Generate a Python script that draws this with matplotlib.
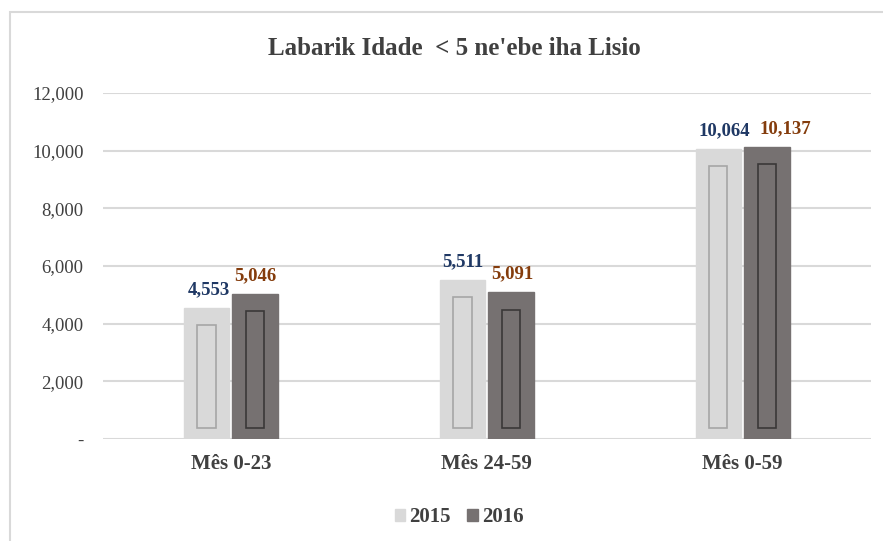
import numpy as np
import matplotlib
matplotlib.use("Agg")
import matplotlib.pyplot as plt
from matplotlib.patches import Rectangle

# data
categories = ["Mês 0-23", "Mês 24-59", "Mês 0-59"]
years = ["2015", "2016"]
values_2015 = [4553, 5511, 10064]
values_2016 = [5046, 5091, 10137]
yticks = [0, 2000, 4000, 6000, 8000, 10000, 12000]

bar_colors = ["#D9D9D9", "#767171"]
inner_edges = ["#A6A6A6", "#3A3838"]
label_colors = ["#1F3864", "#843C0C"]
# horizontal nudges of the value labels (points), to avoid overlaps
label_nudge = [[2, 0, 4], [0, 1, 13]]

serif = ["Liberation Serif", "DejaVu Serif"]

fig = plt.figure(figsize=(8.83, 5.41), dpi=100)
ax = fig.add_axes([0.1166, 0.1885, 0.8694, 0.6395])

# chart frame (like the office chart border)
fig.patches.append(Rectangle((0.011, -0.1), 1.2, 1.078,
                             transform=fig.transFigure, fill=False,
                             edgecolor="#D9D9D9", linewidth=1.5))

x = np.arange(len(categories))
w = 0.178
gap = 0.012
series = [values_2015, values_2016]

for i, vals in enumerate(series):
    offs = (i - 0.5) * (w + gap)
    bars = ax.bar(x + offs, vals, width=w, color=bar_colors[i],
                  edgecolor=bar_colors[i], label=years[i], zorder=3)
    for j, (b, v) in enumerate(zip(bars, vals)):
        bx, bw, bh = b.get_x(), b.get_width(), b.get_height()
        # inner bevel panel
        ax.add_patch(Rectangle((bx + bw * 0.3, 380), bw * 0.4, bh - 980,
                               fill=False, edgecolor=inner_edges[i],
                               linewidth=1.2, zorder=4))
        ax.annotate(f"{v:,}", (bx + bw / 2, bh),
                    xytext=(label_nudge[i][j], 7),
                    textcoords="offset points", ha="center", va="bottom",
                    fontsize=13.5, fontweight="bold", family=serif,
                    color=label_colors[i])

ax.set_xlim(-0.5, len(categories) - 0.5)
ax.set_ylim(0, 12000)
ax.set_yticks(yticks)
ax.set_yticklabels(["-" if t == 0 else f"{t:,}" for t in yticks],
                   family=serif, fontsize=13.5, color="#404040")
ax.set_xticks(x)
ax.set_xticklabels(categories, family=serif, fontsize=15,
                   fontweight="bold", color="#404040")
ax.tick_params(axis="y", length=0, pad=14)
ax.tick_params(axis="x", length=0, pad=11)
ax.grid(axis="y", color="#D9D9D9", linewidth=1.5, zorder=0)
for s in ax.spines.values():
    s.set_visible(False)

fig.text(0.515, 0.911, "Labarik Idade  < 5 ne'ebe iha Lisio", family=serif,
         fontsize=18, fontweight="bold", color="#404040",
         ha="center", va="center")

leg = ax.legend(loc="upper center", bbox_to_anchor=(0.464, -0.143), ncol=2,
                frameon=False, handlelength=0.5, handleheight=0.5,
                handletextpad=0.2, columnspacing=0.8,
                prop={"family": serif, "size": 15, "weight": "bold"})
for t in leg.get_texts():
    t.set_color("#404040")

fig.savefig("out.png", dpi=100)
